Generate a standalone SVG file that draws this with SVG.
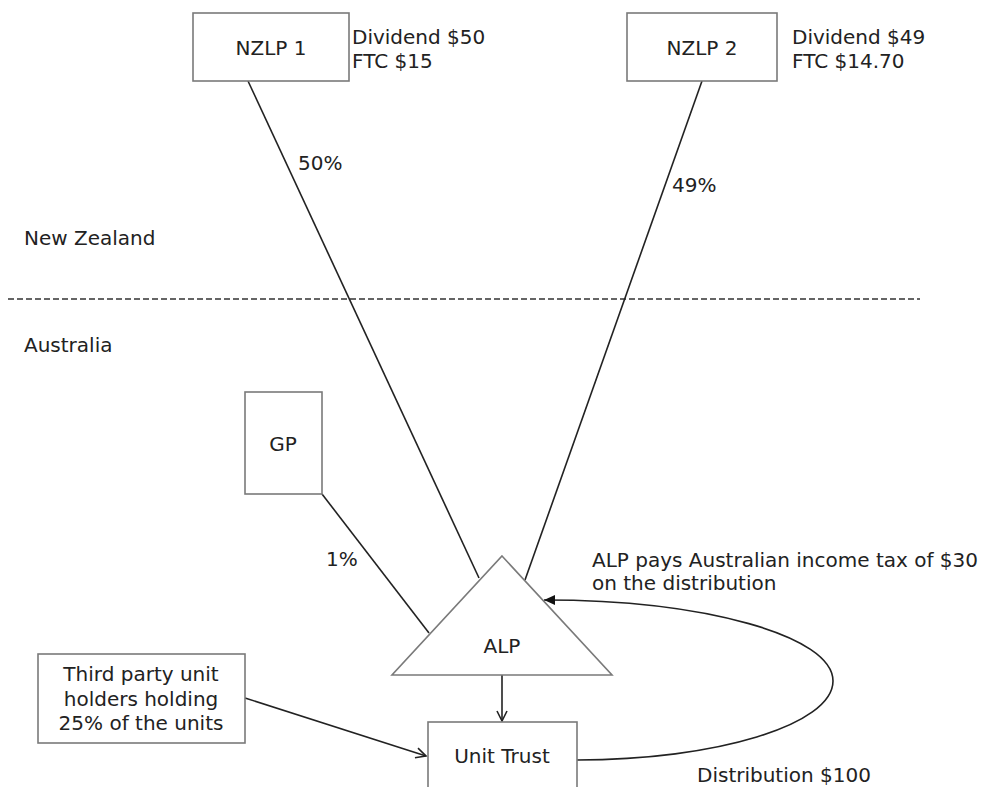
<svg xmlns="http://www.w3.org/2000/svg" width="998" height="787" viewBox="0 0 998 787">
<style>
text{font-family:"DejaVu Sans","Verdana",sans-serif;font-size:20px;fill:#222}
.box{fill:#fff;stroke:#7a7a7a;stroke-width:1.6}
.ln{fill:none;stroke:#222;stroke-width:1.6}
.c{text-anchor:middle}
</style>
<defs>
<marker id="open" markerWidth="14" markerHeight="14" refX="11" refY="6" orient="auto" markerUnits="userSpaceOnUse">
<path d="M1,1 L11,6 L1,11" fill="none" stroke="#222" stroke-width="1.6"/>
</marker>
<marker id="fill" markerWidth="14" markerHeight="12" refX="11" refY="5" orient="auto" markerUnits="userSpaceOnUse">
<path d="M0,0 L11,5 L0,10 Z" fill="#111"/>
</marker>
</defs>
<rect width="998" height="787" fill="#fff"/>
<line x1="8" y1="299" x2="920" y2="299" stroke="#333" stroke-width="1.6" stroke-dasharray="6,3"/>
<text x="24" y="245">New Zealand</text>
<text x="24" y="352">Australia</text>
<g id="connectors">
<line class="ln" x1="248" y1="81" x2="479" y2="578"/>
<line class="ln" x1="702" y1="81" x2="525" y2="580"/>
<line class="ln" x1="322" y1="494" x2="429" y2="633"/>
<line class="ln" x1="502" y1="675" x2="502" y2="721" marker-end="url(#open)"/>
<line class="ln" x1="245" y1="698" x2="426" y2="756" marker-end="url(#open)"/>
<path class="ln" d="M577,760 C715,760 833,725 833,681 C833,636 705,600 544,600" marker-end="url(#fill)"/>
<text x="298" y="170">50%</text>
<text x="672" y="192">49%</text>
<text x="326" y="566">1%</text>
<text x="592" y="567">ALP pays Australian income tax of $30</text>
<text x="592" y="590">on the distribution</text>
<text x="697" y="782">Distribution $100</text>
</g>
<g id="nzlp1">
<rect class="box" x="193" y="13" width="156" height="68"/>
<text class="c" x="271" y="55">NZLP 1</text>
<text x="352" y="44">Dividend $50</text>
<text x="352" y="68">FTC $15</text>
</g>
<g id="nzlp2">
<rect class="box" x="627" y="13" width="150" height="68"/>
<text class="c" x="702" y="55">NZLP 2</text>
<text x="792" y="44">Dividend $49</text>
<text x="792" y="68">FTC $14.70</text>
</g>
<g id="gp">
<rect class="box" x="245" y="392" width="77" height="102"/>
<text class="c" x="283" y="451">GP</text>
</g>
<g id="alp">
<polygon class="box" points="502,556 612,675 392,675"/>
<text class="c" x="502" y="653">ALP</text>
</g>
<g id="unittrust">
<rect class="box" x="428" y="722" width="149" height="80"/>
<text class="c" x="502" y="763">Unit Trust</text>
</g>
<g id="thirdparty">
<rect class="box" x="38" y="654" width="207" height="89"/>
<text class="c" x="141" y="681">Third party unit</text>
<text class="c" x="141" y="706">holders holding</text>
<text class="c" x="141" y="730">25% of the units</text>
</g>
</svg>
